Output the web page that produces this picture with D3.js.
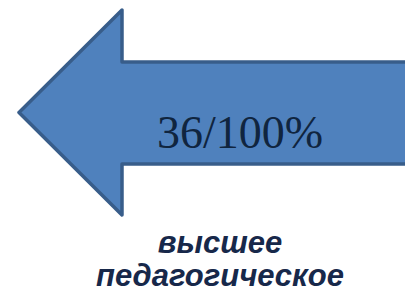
<!DOCTYPE html>
<html>
<head>
<meta charset="utf-8">
<script src="https://cdn.jsdelivr.net/npm/d3@7"></script>
<style>
  html, body { margin: 0; padding: 0; background: #fff; }
  svg { display: block; }
</style>
</head>
<body>
<svg id="chart" width="405" height="293"></svg>
<script>
// values shown on the arrow
var shareValue = [36];
var shareTotal = [100];
var captionLines = ["высшее", "педагогическое"];

var svg = d3.select("#chart"),
  width = +svg.attr("width"),
  height = +svg.attr("height");

// arrow geometry (left pointing block arrow)
var tipX = 19, tipY = 112.5,
  headX = 122,
  headTop = 10, headBottom = 215,
  shaftTop = 62, shaftBottom = 164,
  tailX = width + 20;

var arrow = d3.path();
arrow.moveTo(tipX, tipY);
arrow.lineTo(headX, headTop);
arrow.lineTo(headX, shaftTop);
arrow.lineTo(tailX, shaftTop);
arrow.lineTo(tailX, shaftBottom);
arrow.lineTo(headX, shaftBottom);
arrow.lineTo(headX, headBottom);
arrow.closePath();

svg.append("path")
  .attr("d", arrow.toString())
  .style("fill", "#4f81bd")
  .style("stroke", "#385d8a")
  .style("stroke-width", 3.5)
  .style("stroke-linejoin", "round");

// label on the shaft
svg.append("text")
  .attr("x", 157)
  .attr("y", 148)
  .style("font-family", "'Liberation Serif', 'Times New Roman', serif")
  .style("font-size", "46px")
  .style("fill", "#10253f")
  .text(shareValue[0] + "/" + shareTotal[0] + "%");

// caption under the arrow
svg.append("g")
  .selectAll("text")
  .data(captionLines)
  .enter().append("text")
  .attr("x", 220)
  .attr("y", function (d, i) { return 253 + i * 33; })
  .style("text-anchor", "middle")
  .style("font-family", "'Liberation Sans', Arial, sans-serif")
  .style("font-weight", "bold")
  .style("font-style", "italic")
  .style("font-size", "31px")
  .style("fill", "#17284a")
  .text(function (d) { return d; });
</script>
</body>
</html>
